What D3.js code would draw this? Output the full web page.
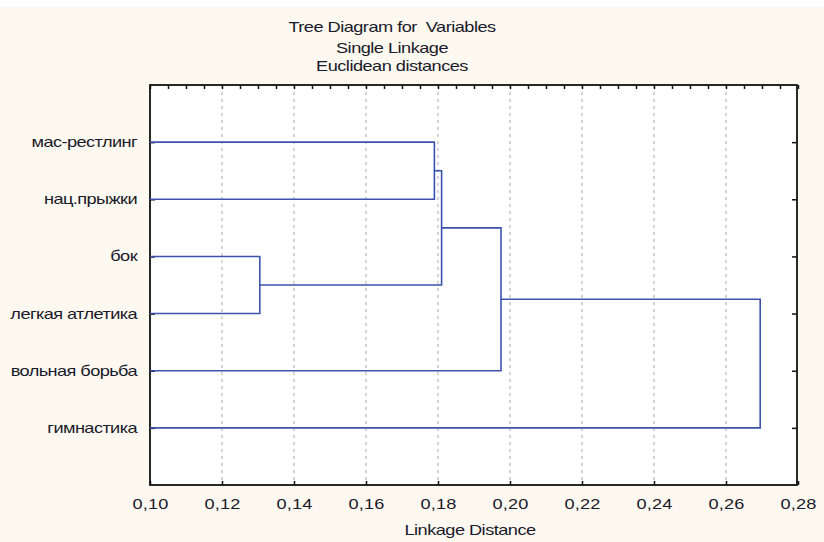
<!DOCTYPE html>
<html>
<head>
<meta charset="utf-8">
<script src="https://cdn.jsdelivr.net/npm/d3@7"></script>
<style>
  body { margin: 0; background: #fff; }
  text { font-family: "Liberation Sans", Arial, sans-serif; fill: #1a1a2a; white-space: pre; }
</style>
</head>
<body>
<div id="chart"></div>
<script>
// leaves, top to bottom
var leafNames = ["мас-рестлинг", "нац.прыжки", "бок", "легкая атлетика", "вольная борьба", "гимнастика"];

// linkage steps: ids 0-5 are leaves, step i creates cluster 6+i
var mergeLeft = [0, 2, 6, 8, 9];
var mergeRight = [1, 3, 7, 4, 5];
var mergeDist = [0.179, 0.1305, 0.181, 0.1975, 0.2695];

var xTicks = [0.10, 0.12, 0.14, 0.16, 0.18, 0.20, 0.22, 0.24, 0.26, 0.28];
var titleLines = ["Tree Diagram for  Variables", "Single Linkage", "Euclidean distances"];

var svgWidth = 824;
var svgHeight = 542;
var stretch = 1.3; // text in the original is drawn wide

var plot = { left: 150, right: 797, top: 85, bottom: 485 };

var svg = d3.select("#chart")
  .append("svg")
  .attr("width", svgWidth)
  .attr("height", svgHeight);

// cream page background with thin white strip on top
svg.append("rect")
  .attr("x", 0).attr("y", 7)
  .attr("width", svgWidth).attr("height", svgHeight - 7)
  .attr("fill", "#fdf9f0");

svg.append("rect")
  .attr("x", plot.left).attr("y", plot.top)
  .attr("width", plot.right - plot.left).attr("height", plot.bottom - plot.top)
  .attr("fill", "#fff");

var x = d3.scaleLinear()
  .domain([0.10, 0.28])
  .range([plot.left, plot.right + 1]);

var y = d3.scalePoint()
  .domain(leafNames)
  .range([plot.top, plot.bottom])
  .padding(1);

// dashed gridlines
svg.append("g")
  .selectAll("line")
  .data(xTicks.slice(1, -1))
  .enter()
  .append("line")
  .attr("x1", d => x(d)).attr("x2", d => x(d))
  .attr("y1", plot.top).attr("y2", plot.bottom)
  .attr("stroke", "#b8b8b8")
  .attr("stroke-width", 1.2)
  .attr("stroke-dasharray", "3,4");

// bottom axis (labels) with inward ticks
var bottomAxis = d3.axisBottom(x)
  .tickValues(xTicks)
  .tickSizeInner(-4)
  .tickSizeOuter(0)
  .tickPadding(14)
  .tickFormat(d => d3.format(".2f")(d).replace(".", ","));

var gx = svg.append("g")
  .attr("transform", `translate(0, ${plot.bottom})`)
  .call(bottomAxis);
gx.select(".domain").remove();
gx.selectAll("line").attr("stroke", "#111").attr("stroke-width", 1.5);
gx.selectAll("text")
  .attr("font-size", 14)
  .attr("letter-spacing", "0.1")
  .attr("transform", `scale(${stretch},1)`)
  .style("font-family", "'Liberation Sans', Arial, sans-serif")
  .attr("fill", "#1a1a2a");

// top axis: major + minor inward ticks, no labels
var minorTicks = d3.range(0, 37).map(i => 0.10 + i * 0.005);
svg.append("g")
  .attr("transform", `translate(0, ${plot.top})`)
  .call(d3.axisTop(x).tickValues(minorTicks).tickSizeInner(-4).tickSizeOuter(0).tickFormat(""))
  .call(g => g.select(".domain").remove())
  .call(g => g.selectAll("line").attr("stroke", "#111").attr("stroke-width", 1.5));

// left axis with leaf labels
var leftAxis = d3.axisLeft(y)
  .tickSizeInner(-5)
  .tickSizeOuter(0)
  .tickPadding(10);

var gy = svg.append("g")
  .attr("transform", `translate(${plot.left}, 0)`)
  .call(leftAxis);
gy.select(".domain").remove();
gy.selectAll("line").attr("stroke", "#111").attr("stroke-width", 1.5);
gy.selectAll("text")
  .attr("x", -13 / stretch)
  .attr("font-size", 14)
  .attr("letter-spacing", "-0.45")
  .attr("transform", `scale(${stretch},1)`)
  .style("font-family", "'Liberation Sans', Arial, sans-serif")
  .attr("fill", "#1a1a2a");

// right side ticks
svg.append("g")
  .attr("transform", `translate(${plot.right}, 0)`)
  .call(d3.axisRight(y).tickSizeInner(-5).tickSizeOuter(0).tickFormat(""))
  .call(g => g.select(".domain").remove())
  .call(g => g.selectAll("line").attr("stroke", "#111").attr("stroke-width", 1.5));

// frame
svg.append("rect")
  .attr("x", plot.left).attr("y", plot.top)
  .attr("width", plot.right - plot.left).attr("height", plot.bottom - plot.top)
  .attr("fill", "none")
  .attr("stroke", "#111")
  .attr("stroke-width", 1.8);

// build node positions and draw the dendrogram links
var nodeX = leafNames.map(() => x.domain()[0]);
var nodeY = leafNames.map(d => y(d));

var links = [];
mergeDist.forEach(function(dist, i) {
  var a = mergeLeft[i], b = mergeRight[i];
  links.push({ x1: nodeX[a], y1: nodeY[a], x2: nodeX[b], y2: nodeY[b], h: dist });
  nodeX.push(dist);
  nodeY.push((nodeY[a] + nodeY[b]) / 2);
});

svg.append("g")
  .selectAll("path")
  .data(links)
  .enter()
  .append("path")
  .attr("d", d => `M${x(d.x1)},${d.y1}H${x(d.h)}V${d.y2}H${x(d.x2)}`)
  .attr("fill", "none")
  .attr("stroke", "#3d52ad")
  .attr("stroke-width", 1.6);

// titles
svg.append("g")
  .selectAll("g")
  .data(titleLines)
  .enter()
  .append("g")
  .attr("transform", (d, i) => `translate(392, ${[32, 53, 71][i]}) scale(${stretch},1)`)
  .append("text")
  .attr("text-anchor", "middle")
  .attr("font-size", 14)
  .attr("letter-spacing", "-0.4")
  .text(d => d);

svg.append("g")
  .attr("transform", `translate(470, 535) scale(${stretch},1)`)
  .append("text")
  .attr("text-anchor", "middle")
  .attr("font-size", 14)
  .attr("letter-spacing", "-0.4")
  .text("Linkage Distance");
</script>
</body>
</html>
